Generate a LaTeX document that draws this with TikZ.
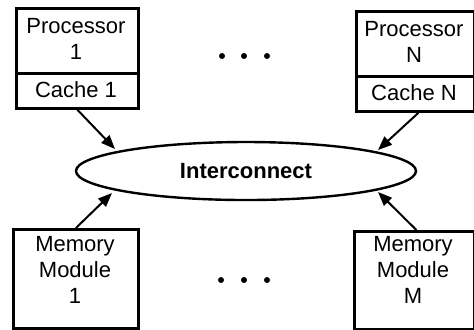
\documentclass[tikz,border=0pt]{standalone}
\usepackage{fontspec}
\setmainfont{Liberation Sans}
\usetikzlibrary{arrows.meta,shapes.geometric}
\begin{document}
\begin{tikzpicture}[x=0.5pt,y=-0.5pt,
  box/.style={draw,line width=1.4pt,rectangle,inner sep=0pt,anchor=north west},
  lbl/.style={align=center,font=\fontsize{11}{13}\selectfont,inner sep=0pt},
  arr/.style={line width=1pt,-{Triangle[length=7pt,width=5.5pt]}},
  dot/.style={fill,circle,inner sep=0pt,minimum size=3pt}]
\useasboundingbox (0,0) rectangle (474,329);
% Processor 1
\node[box,minimum width=61pt,minimum height=32.5pt] (p1) at (15,7) {};
\node[lbl] (p1t) at (76,39) {Processor\\1};
\node[box,minimum width=61pt,minimum height=17.5pt] (c1) at (15,72) {};
\node[lbl] (c1t) at (76,90) {Cache 1};
% Processor N
\node[box,minimum width=59pt,minimum height=32.5pt] (pn) at (355,10) {};
\node[lbl] (pnt) at (414,42) {Processor\\N};
\node[box,minimum width=59pt,minimum height=17.5pt] (cn) at (355,75) {};
\node[lbl] (cnt) at (414,93) {Cache N};
% Memory modules
\node[box,minimum width=62.5pt,minimum height=49.5pt] (m1) at (12,228) {};
\node[lbl] (m1t) at (75,270) {Memory\\Module\\1};
\node[box,minimum width=60pt,minimum height=49pt] (mm) at (353,230) {};
\node[lbl] (mmt) at (413,270) {Memory\\Module\\M};
% Interconnect
\node[draw,ellipse,line width=1.2pt,minimum width=170pt,minimum height=29pt,inner sep=0pt,
  font=\fontsize{11}{13}\selectfont\bfseries] (ic) at (246,171) {Interconnect};
% arrow tips on the interconnect
\coordinate (t1) at (115,149);
\coordinate (tn) at (378,150);
\coordinate (b1) at (112,193);
\coordinate (bm) at (378,192);
\draw[arr] (c1.south) -- (t1);
\draw[arr] ([xshift=1.5pt]cn.south) -- (tn);
\draw[arr] (m1.north) -- (b1);
\draw[arr] ([xshift=1pt]mm.north) -- (bm);
% dots
\node[dot] (d1) at (222,56) {};
\node[dot] (d2) at (244,56) {};
\node[dot] (d3) at (267,56) {};
\node[dot] (e1) at (221,280) {};
\node[dot] (e2) at (244,280) {};
\node[dot] (e3) at (267,280) {};
\end{tikzpicture}
\end{document}
